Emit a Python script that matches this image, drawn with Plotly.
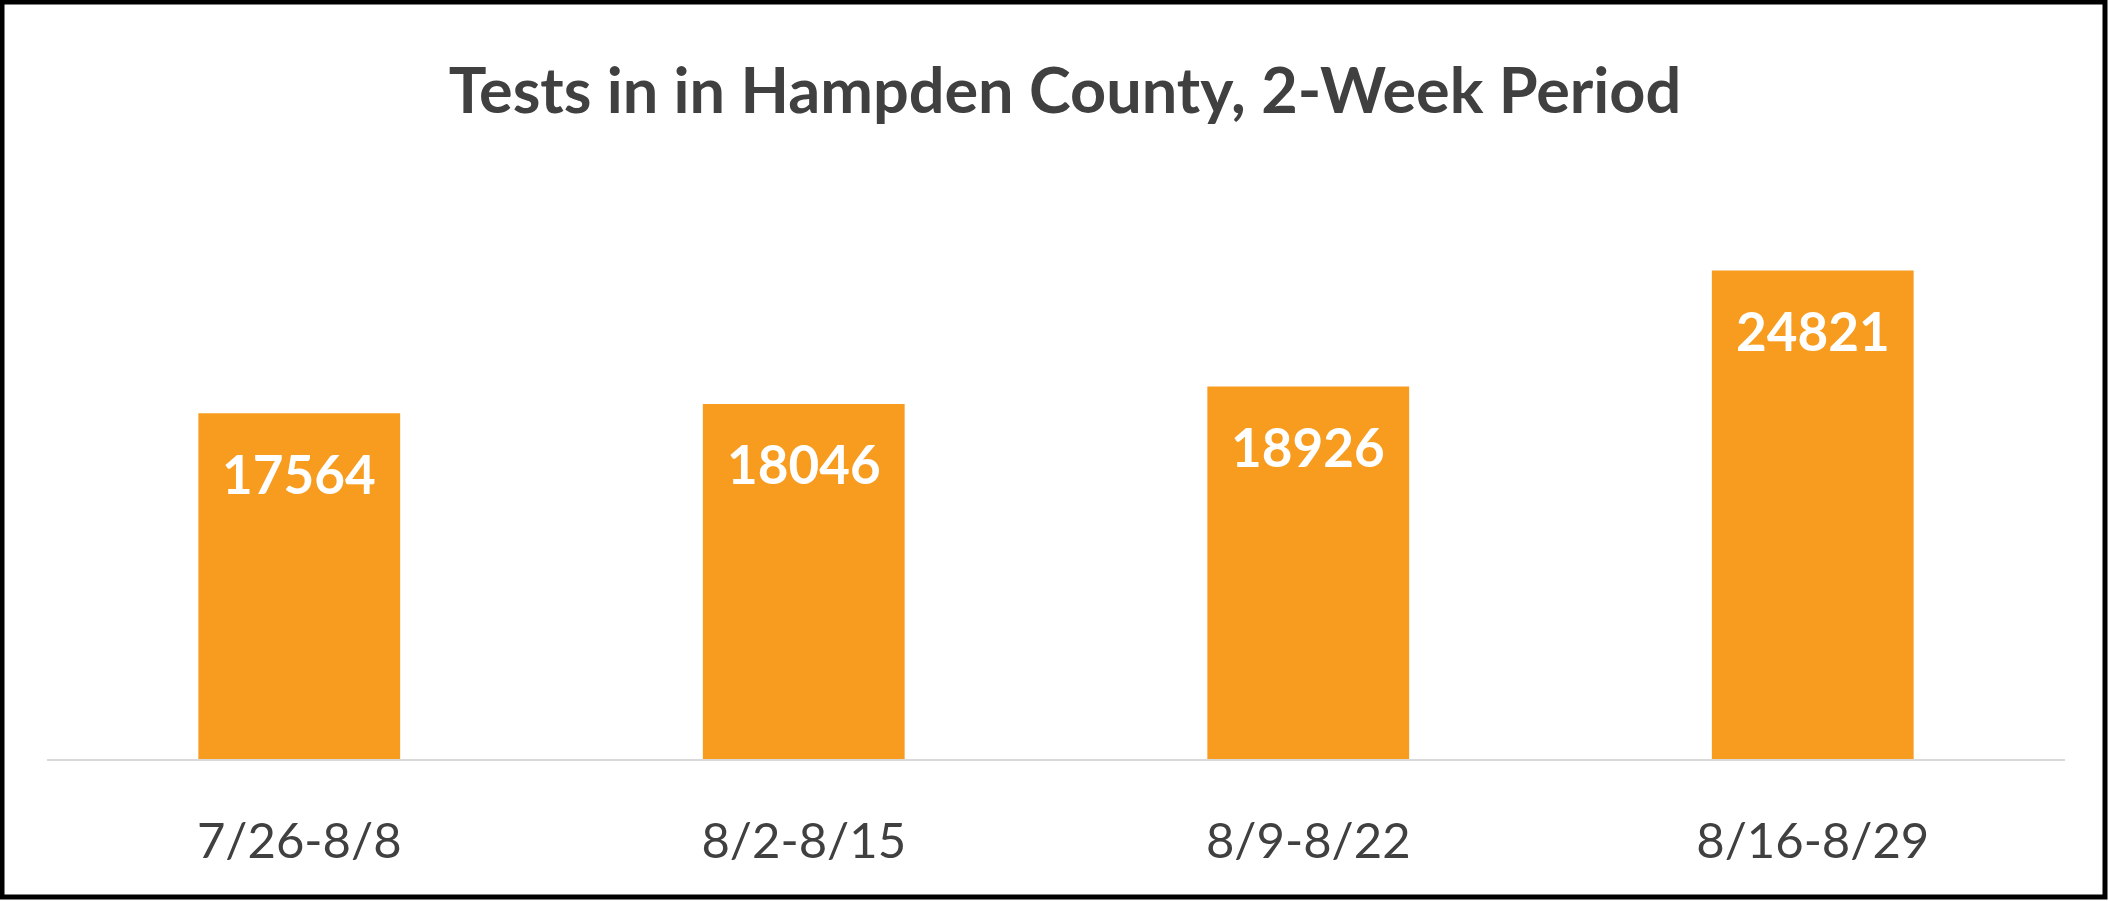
import plotly.graph_objects as go

categories = ["7/26-8/8", "8/2-8/15", "8/9-8/22", "8/16-8/29"]
tests = [17564, 18046, 18926, 24821]
title_text = "Tests in in Hampden County, 2-Week Period"

W, H = 2109, 901
ml, mr, mt, mb = 47, 44, 208, 142
pw = W - ml - mr
ph = H - mt - mb

fig = go.Figure()
fig.add_trace(go.Bar(
    x=categories, y=tests,
    marker=dict(color="#F79C1F", line=dict(width=0)),
    hoverinfo="x+y",
))
for c, v in zip(categories, tests):
    fig.add_annotation(
        x=c, y=v, text=f"<b>{v}</b>", showarrow=False,
        yanchor="middle", yshift=-60,
        font=dict(family="Lato", size=53, color="white"),
    )

# outer black frame around the whole picture
fig.add_shape(
    type="rect", xref="paper", yref="paper",
    x0=-(ml - 2) / pw, x1=1 + (mr - 4) / pw,
    y0=-(mb - 4) / ph, y1=1 + (mt - 2) / ph,
    line=dict(color="black", width=5), fillcolor="rgba(0,0,0,0)",
)

fig.update_layout(
    width=W, height=H,
    margin=dict(l=ml, r=mr, t=mt, b=mb, pad=0),
    paper_bgcolor="white", plot_bgcolor="white",
    bargap=0.6,
    showlegend=False,
    title=dict(
        text=f"<b>{title_text}</b>", x=0.505, xanchor="center",
        y=1 - 91 / H, yanchor="middle", xref="container",
        font=dict(family="Lato", size=63, color="#404040"),
    ),
    xaxis=dict(
        showline=True, linecolor="#D9D9D9", linewidth=2,
        showgrid=False, ticks="", zeroline=False,
        tickfont=dict(family="Lato", size=49, color="#404040"),
        ticklabelstandoff=38,
    ),
    yaxis=dict(
        range=[0, 28000], visible=False, showgrid=False, zeroline=False,
    ),
)

fig.write_html("out.html", config={"displayModeBar": False},
               post_script="document.body.style.margin='0px';")
